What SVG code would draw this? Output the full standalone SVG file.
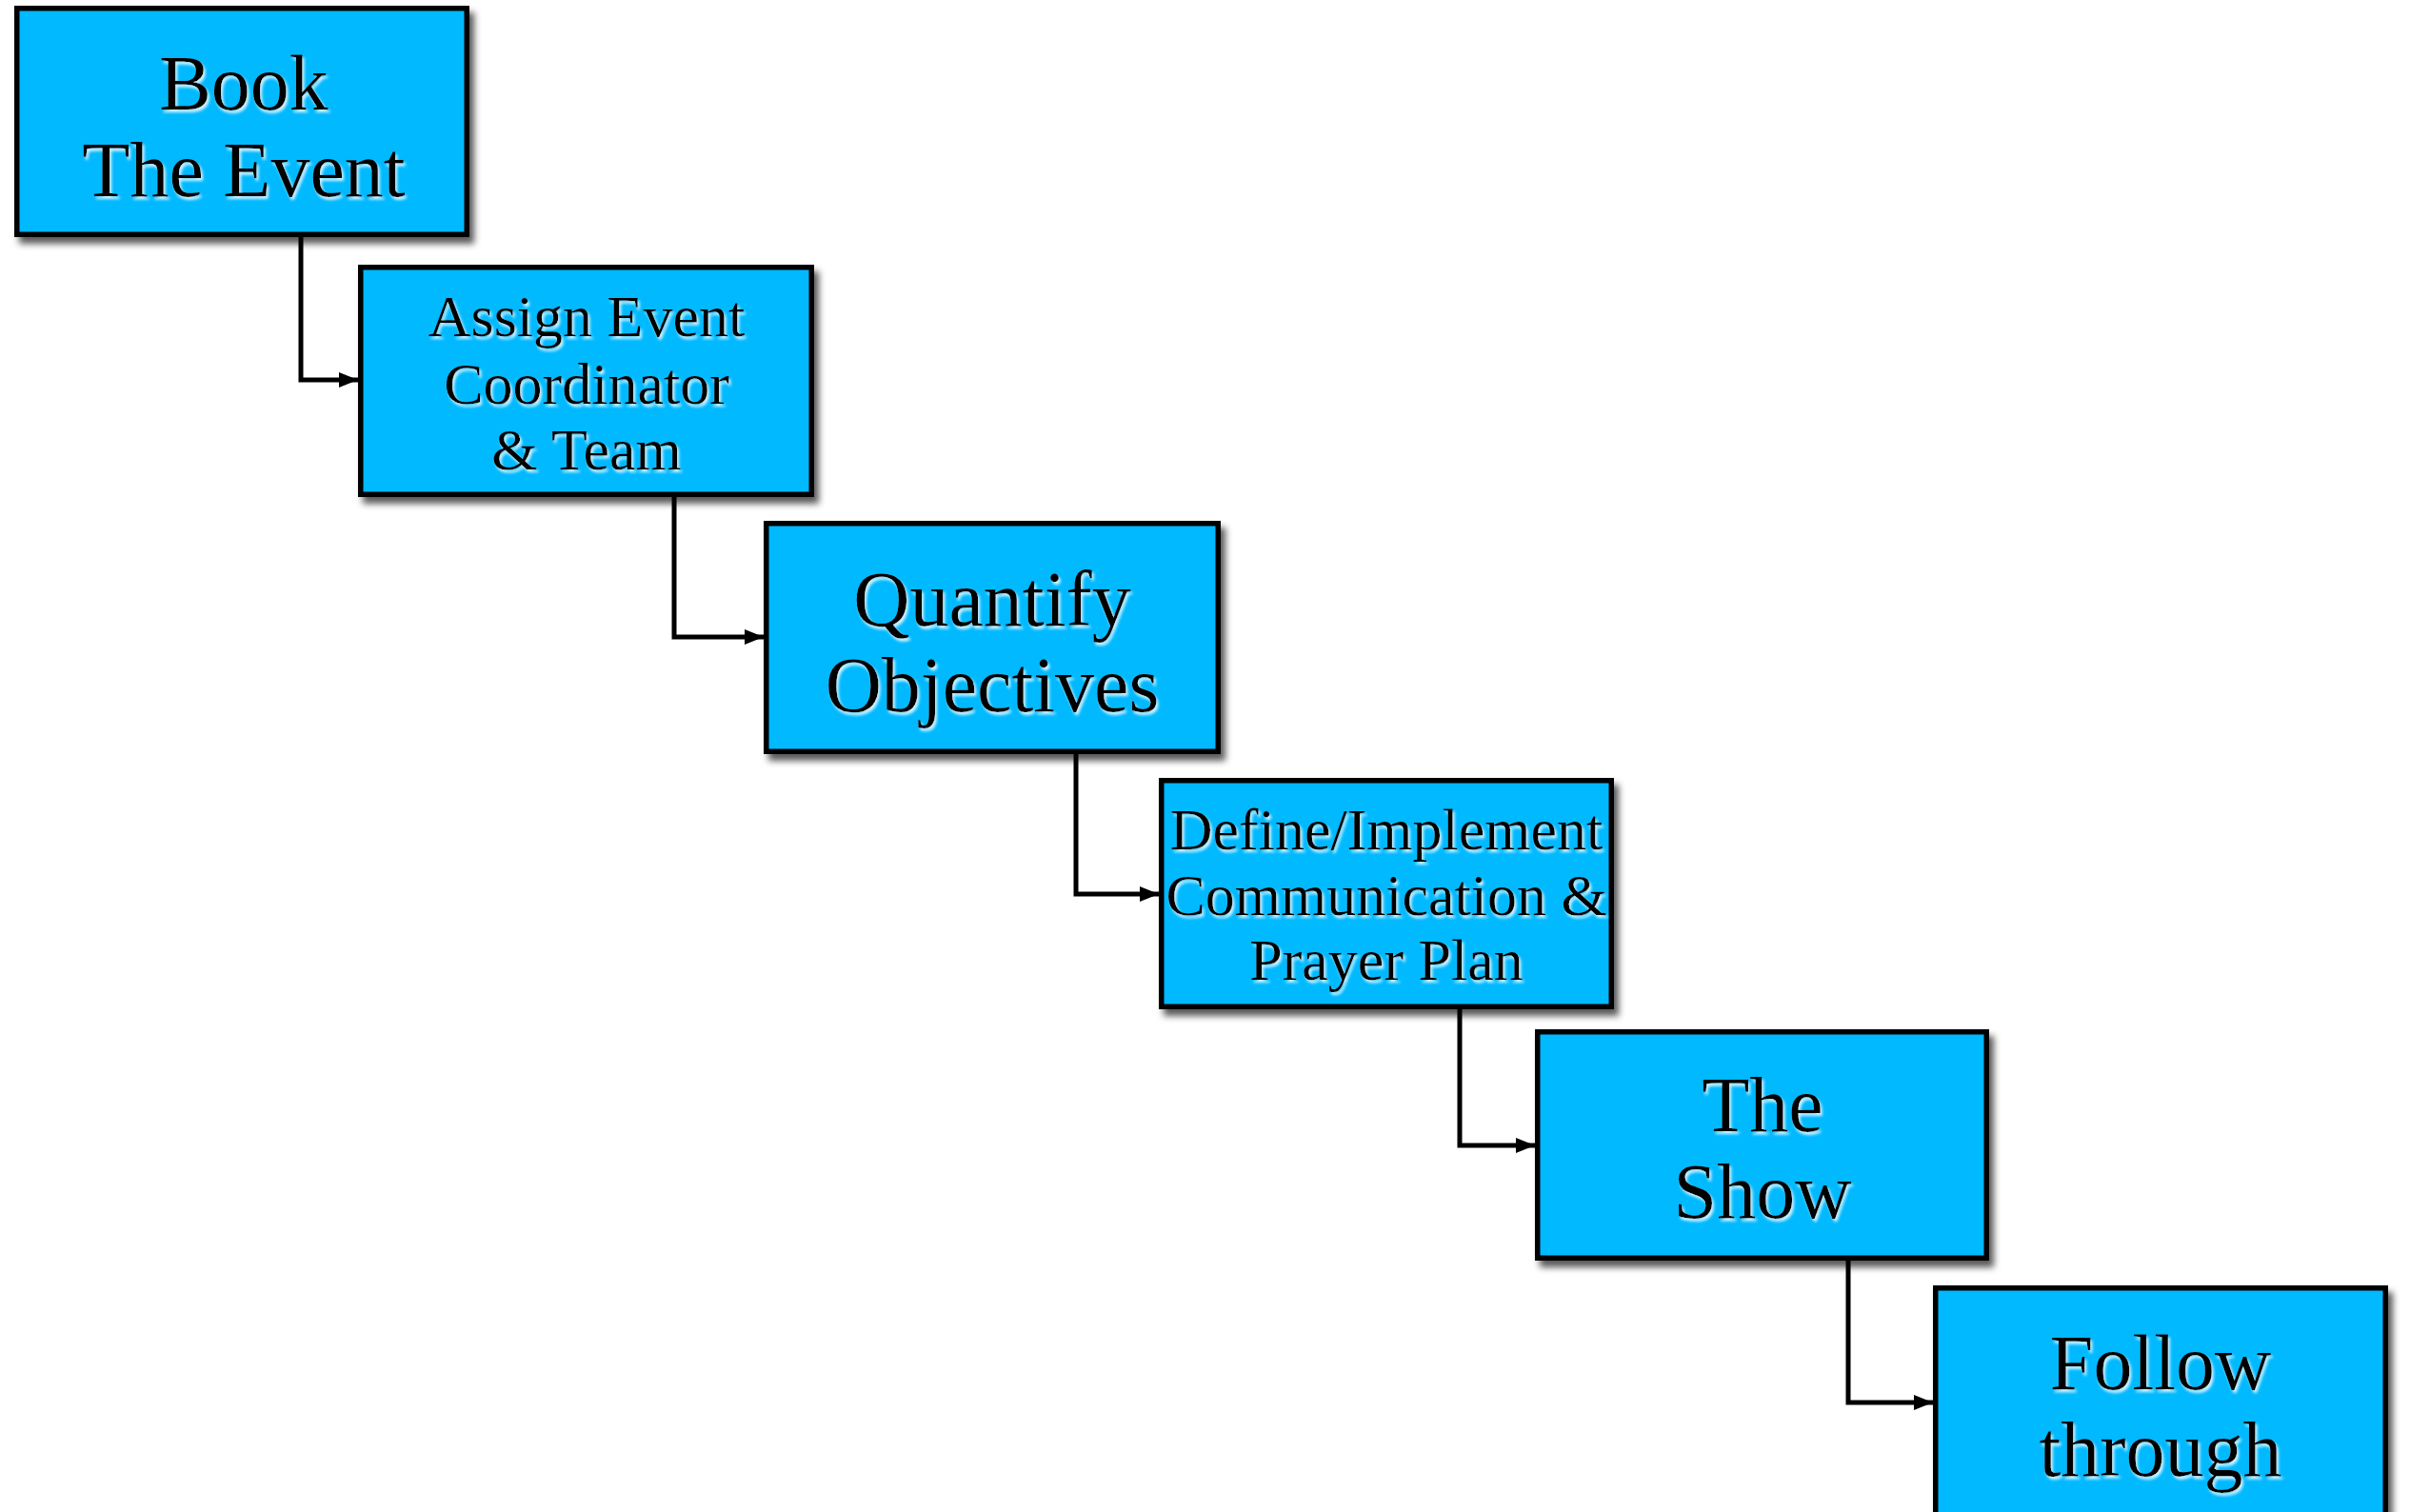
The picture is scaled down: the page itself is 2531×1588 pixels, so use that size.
<svg xmlns="http://www.w3.org/2000/svg" width="2531" height="1588" viewBox="0 0 2531 1588">
<style>
  .box { fill: #00B9FF; stroke: #000; stroke-width: 5.5; filter: url(#boxShadow); }
  .lbl { font-family: "Liberation Serif", "Times New Roman", serif; fill: #000; text-anchor: middle; filter: url(#textGlow); }
  .big { font-size: 82px; }
  .small { font-size: 62px; }
  .conn { fill: none; stroke: #000; stroke-width: 5; stroke-linejoin: miter; marker-end: url(#arrow); }
</style>
<defs>
  <filter id="boxShadow" x="-10%" y="-10%" width="125%" height="130%">
    <feDropShadow dx="5" dy="7" stdDeviation="3.5" flood-color="#000" flood-opacity="0.65"/>
  </filter>
  <filter id="textGlow" x="-10%" y="-20%" width="125%" height="150%">
    <feDropShadow dx="2" dy="3" stdDeviation="1.5" flood-color="#E8FAFF" flood-opacity="0.9"/>
  </filter>
  <marker id="arrow" markerUnits="userSpaceOnUse" markerWidth="20" markerHeight="16" refX="20" refY="8" orient="auto">
    <path d="M0,0 L20,8 L0,16 z" fill="#000"/>
  </marker>
</defs>
<rect width="2531" height="1588" fill="#fff"/>

<g id="connectors">
  <path class="conn" d="M316 249 V399 H376"/>
  <path class="conn" d="M708 522 V669 H802"/>
  <path class="conn" d="M1130 792 V939 H1217"/>
  <path class="conn" d="M1533 1060 V1203 H1612"/>
  <path class="conn" d="M1941 1324 V1473 H2030"/>
</g>

<g id="node-book">
  <rect class="box" x="17.75" y="8.75" width="472.5" height="237.5"/>
  <text class="lbl big" x="256" y="115">Book</text>
  <text class="lbl big" x="256" y="206">The Event</text>
</g>

<g id="node-assign">
  <rect class="box" x="378.75" y="280.75" width="473.5" height="238.5"/>
  <text class="lbl small" x="616" y="353">Assign Event</text>
  <text class="lbl small" x="616" y="424">Coordinator</text>
  <text class="lbl small" x="616" y="493">&amp; Team</text>
</g>

<g id="node-quantify">
  <rect class="box" x="804.75" y="549.75" width="474.5" height="239.5"/>
  <text class="lbl big" x="1042" y="657">Quantify</text>
  <text class="lbl big" x="1042" y="747">Objectives</text>
</g>

<g id="node-define">
  <rect class="box" x="1219.75" y="819.75" width="472.5" height="237.5"/>
  <text class="lbl small" x="1456" y="892">Define/Implement</text>
  <text class="lbl small" x="1456" y="961">Communication &amp;</text>
  <text class="lbl small" x="1456" y="1029">Prayer Plan</text>
</g>

<g id="node-show">
  <rect class="box" x="1614.75" y="1083.75" width="471.5" height="237.5"/>
  <text class="lbl big" x="1851" y="1188">The</text>
  <text class="lbl big" x="1851" y="1279">Show</text>
</g>

<g id="node-follow">
  <rect class="box" x="2032.75" y="1352.75" width="472.5" height="240"/>
  <text class="lbl big" x="2269" y="1459">Follow</text>
  <text class="lbl big" x="2269" y="1550">through</text>
</g>
</svg>
